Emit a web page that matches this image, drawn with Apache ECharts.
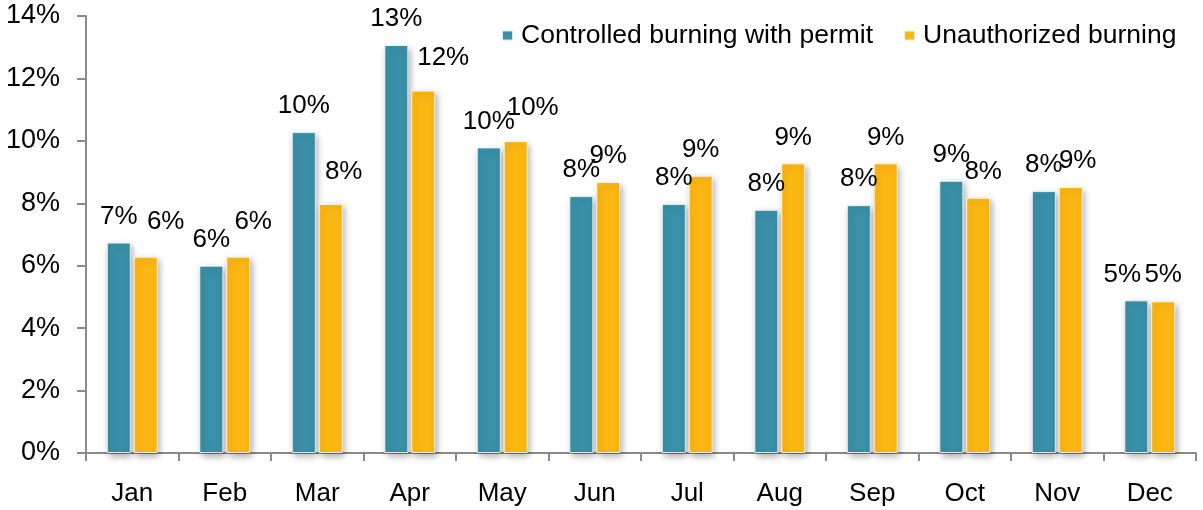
<!DOCTYPE html>
<html>
<head>
<meta charset="utf-8">
<script src="https://cdn.jsdelivr.net/npm/echarts@6/dist/echarts.min.js"></script>
<style>
  html, body { margin: 0; padding: 0; background: #fff; }
  #chart { width: 1203px; height: 510px; }
</style>
</head>
<body>
<div id="chart"></div>
<script>
// monthly share of fires, in percent
var months = ["Jan", "Feb", "Mar", "Apr", "May", "Jun", "Jul", "Aug", "Sep", "Oct", "Nov", "Dec"];
var controlled = [6.74, 6.00, 10.28, 13.07, 9.79, 8.23, 7.98, 7.79, 7.94, 8.72, 8.39, 4.89];
var unauthorized = [6.29, 6.29, 7.98, 11.61, 9.99, 8.68, 8.88, 9.28, 9.28, 8.18, 8.52, 4.86];
var seriesNames = ["Controlled burning with permit", "Unauthorized burning"];

// label nudges (the original's labels were placed by hand in places)
var blueNudge = { 11: [-14, 0] };
var orangeNudge = { 0: [20, -9], 1: [15, -9], 2: [13, -6], 3: [20, -7], 4: [17, -7], 9: [5, 0], 10: [7, 0] };

var FONT = "'Liberation Sans', Arial, sans-serif";
var BLUE = "#3990a8";
var ORANGE = "#fdb713";

function buildData(values, nudge) {
  return values.map(function (v, i) {
    var item = { value: v };
    if (nudge[i]) {
      item.label = { offset: nudge[i] };
    }
    return item;
  });
}

function barSeries(name, values, color, nudge) {
  return {
    name: name,
    type: "bar",
    barWidth: 24,
    barGap: "12%",
    data: buildData(values, nudge),
    itemStyle: {
      color: color,
      borderColor: "rgba(255,255,255,0.8)",
      borderWidth: 1,
      shadowColor: "rgba(0,0,0,0.35)",
      shadowBlur: 7,
      shadowOffsetX: 2,
      shadowOffsetY: 3
    },
    label: {
      show: true,
      position: "top",
      distance: 13,
      color: "#000",
      fontFamily: FONT,
      fontSize: 26,
      formatter: function (p) {
        return Math.round(p.value) + "%";
      }
    }
  };
}

var chart = echarts.init(document.getElementById("chart"));
chart.setOption({
  animation: false,
  textStyle: { fontFamily: FONT },
  legend: {
    left: 496,
    top: 17,
    icon: "rect",
    itemWidth: 11,
    itemHeight: 10,
    itemGap: 30,
    data: seriesNames,
    textStyle: { color: "#000", fontSize: 26.5, fontFamily: FONT, padding: [0, 0, 0, 3] }
  },
  grid: {
    left: 86,
    right: 7,
    top: 16,
    bottom: 57
  },
  xAxis: {
    type: "category",
    data: months,
    axisLine: { lineStyle: { color: "#8a8a8a", width: 2 } },
    axisTick: { show: true, length: 8, lineStyle: { color: "#8a8a8a", width: 2 } },
    axisLabel: { color: "#000", fontSize: 26, margin: 28, fontFamily: FONT },
    splitLine: { show: false }
  },
  yAxis: {
    type: "value",
    min: 0,
    max: 14,
    interval: 2,
    axisLine: { show: true, lineStyle: { color: "#8a8a8a", width: 2 } },
    axisTick: { show: true, length: 9, lineStyle: { color: "#8a8a8a", width: 2 } },
    axisLabel: { color: "#000", fontSize: 27, margin: 26, formatter: "{value}%", fontFamily: FONT },
    splitLine: { show: false }
  },
  series: [
    barSeries(seriesNames[0], controlled, BLUE, blueNudge),
    barSeries(seriesNames[1], unauthorized, ORANGE, orangeNudge)
  ]
});
</script>
</body>
</html>
